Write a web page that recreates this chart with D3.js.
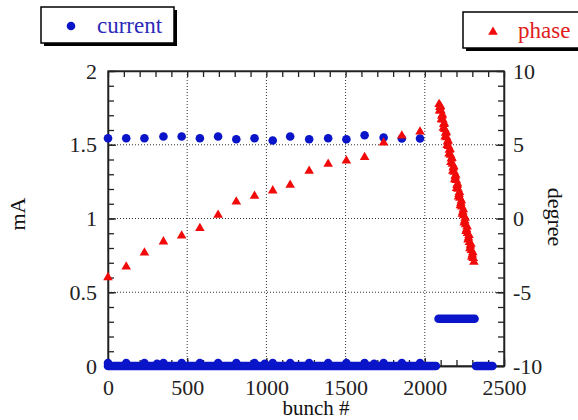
<!DOCTYPE html>
<html><head><meta charset="utf-8">
<script src="https://cdn.jsdelivr.net/npm/d3@7"></script>
<style>
body{margin:0;background:#fff}
svg{display:block}
svg text{font-family:"Liberation Serif","DejaVu Serif",serif !important}
</style>
</head><body>
<svg id="c" width="578" height="420" font-family="Liberation Serif, serif"></svg>
<script>
// ---------- data ----------
const sparseBunches = [0,115,230,350,465,580,695,810,925,1040,1150,1270,1390,1505,1620,1740,1855,1970];
const currentHigh   = [1.544,1.544,1.544,1.556,1.556,1.544,1.556,1.537,1.544,1.529,1.556,1.537,1.544,1.537,1.564,1.549,1.542,1.542];
const phaseSparse   = [-3.99,-3.27,-2.32,-1.57,-1.17,-0.66,0.24,1.14,1.53,1.89,2.27,3.22,3.69,3.92,4.15,5.14,5.61,5.88];

const phaseDenseBunches = [2090,2096,2102,2108,2114,2120,2126,2132,2138,2144,2150,2156,2162,2168,2174,2180,2186,2192,2198,2204,2210,2216,2222,2228,2234,2240,2246,2252,2258,2264,2270,2276,2282,2288,2294,2300,2306,2310];
const phaseDense        = [7.75,7.55,7.30,6.95,6.70,6.40,6.05,5.80,5.50,5.20,4.90,4.65,4.30,4.05,3.70,3.45,3.15,2.85,2.60,2.25,2.00,1.65,1.40,1.05,0.80,0.45,0.20,-0.15,-0.40,-0.75,-1.00,-1.30,-1.60,-1.85,-2.15,-2.45,-2.70,-2.95];
const phaseDense2Bunches = [2093,2099,2105,2111,2117,2123,2129,2135,2141,2147,2153,2159,2165,2171,2177,2183,2189,2195,2201,2207,2213,2219,2225,2231,2237,2243,2249,2255,2261,2267,2273,2279,2285,2291,2297,2303];
const phaseDense2        = [7.30,7.61,6.72,7.03,6.14,6.45,5.55,5.86,4.97,5.28,4.39,4.70,3.81,4.11,3.22,3.53,2.64,2.95,2.06,2.36,1.47,1.78,0.89,1.20,0.31,0.61,-0.28,0.03,-0.86,-0.55,-1.44,-1.14,-2.03,-1.72,-2.61,-2.30];

// runs of densely packed current points (start bunch, end bunch, value)
const runStarts = [0, 2087, 2323];
const runEnds   = [2070, 2314, 2427];
const runValues = [0, 0.32, 0];
// slightly raised points on the zero-current run
const lowBunches = [0,115,230,310,350,465,580,695,810,925,990,1040,1150,1270,1390,1505,1620,1680,1740,1855,1970];
const lowValues  = [0.02,0.02,0.02,0.015,0.02,0.02,0.02,0.02,0.02,0.02,0.015,0.02,0.02,0.02,0.02,0.02,0.02,0.015,0.02,0.02,0.02];

const xTicks = [0,500,1000,1500,2000,2500];
const yLeftTicks = [0,0.5,1,1.5,2];
const yRightTicks = [-10,-5,0,5,10];

// ---------- drawing ----------
const FONT = "Liberation Serif, DejaVu Serif, serif";
const svg = d3.select("#c");
const L=108, R=504, T=71, B=366;
const x  = d3.scaleLinear().domain([0,2500]).range([L,R]);
const yL = d3.scaleLinear().domain([0,2]).range([B,T]);
const yR = d3.scaleLinear().domain([-10,10]).range([B,T]);
const BLUE="#0a14c8", RED="#f00a0a", AX="#222";

// gridlines
const grid = svg.append("g").attr("stroke","#333").attr("stroke-width",1).attr("stroke-dasharray","1,2");
xTicks.filter(d=>d>0&&d<2500).forEach(d=>{
  grid.append("line").attr("x1",x(d)).attr("x2",x(d)).attr("y1",T).attr("y2",B);
});
yLeftTicks.filter(d=>d>0&&d<2).forEach(d=>{
  grid.append("line").attr("x1",L).attr("x2",R).attr("y1",yL(d)).attr("y2",yL(d));
});

function styleAxis(g){
  g.attr("font-family",FONT).attr("font-size",22);
  g.selectAll("path,line").attr("stroke",AX).attr("stroke-width",1.3);
  g.selectAll("text").attr("font-size",22).attr("fill","#222").attr("font-family",FONT);
}
// minor ticks
svg.append("g").attr("transform",`translate(0,${B})`)
  .call(d3.axisBottom(x).tickValues(d3.range(0,2501,100)).tickSizeInner(-6).tickSizeOuter(0).tickFormat(""))
  .call(styleAxis);
svg.append("g").attr("transform",`translate(0,${T})`)
  .call(d3.axisTop(x).tickValues(d3.range(0,2501,100)).tickSizeInner(-6).tickSizeOuter(0).tickFormat(""))
  .call(styleAxis);
svg.append("g").attr("transform",`translate(${L},0)`)
  .call(d3.axisLeft(yL).tickValues(d3.range(0,21).map(i=>i/10)).tickSizeInner(-6).tickSizeOuter(0).tickFormat(""))
  .call(styleAxis);
svg.append("g").attr("transform",`translate(${R},0)`)
  .call(d3.axisRight(yR).tickValues(d3.range(-10,11)).tickSizeInner(-6).tickSizeOuter(0).tickFormat(""))
  .call(styleAxis);
// major labelled axes
svg.append("g").attr("transform",`translate(0,${B})`)
  .call(d3.axisBottom(x).tickValues(xTicks).tickSizeInner(-8).tickSizeOuter(0).tickPadding(13).tickFormat(d=>String(d)))
  .call(styleAxis);
svg.append("g").attr("transform",`translate(${L},0)`)
  .call(d3.axisLeft(yL).tickValues(yLeftTicks).tickSizeInner(-8).tickSizeOuter(0).tickPadding(11).tickFormat(d=>String(d)))
  .call(styleAxis);
svg.append("g").attr("transform",`translate(${R},0)`)
  .call(d3.axisRight(yR).tickValues(yRightTicks).tickSizeInner(-8).tickSizeOuter(0).tickPadding(9).tickFormat(d=>String(d)))
  .call(styleAxis);
// frame
svg.append("rect").attr("x",L).attr("y",T).attr("width",R-L).attr("height",B-T)
  .attr("fill","none").attr("stroke",AX).attr("stroke-width",1.3);

// current: dense runs
const pts = svg.append("g");
runStarts.forEach((s,i)=>{
  pts.append("line").attr("x1",x(s)).attr("x2",x(runEnds[i]))
    .attr("y1",yL(runValues[i])).attr("y2",yL(runValues[i]))
    .attr("stroke",BLUE).attr("stroke-width",8.6).attr("stroke-linecap","round");
});
lowBunches.forEach((b,i)=>{
  pts.append("circle").attr("cx",x(b)).attr("cy",yL(lowValues[i])).attr("r",4.3).attr("fill",BLUE);
});
sparseBunches.forEach((b,i)=>{
  pts.append("circle").attr("cx",x(b)).attr("cy",yL(currentHigh[i])).attr("r",4.3).attr("fill",BLUE);
});
// phase
const tri = d3.symbol().type(d3.symbolTriangle).size(40);
sparseBunches.forEach((b,i)=>{
  pts.append("path").attr("d",tri()).attr("transform",`translate(${x(b)},${yR(phaseSparse[i])})`).attr("fill",RED);
});
phaseDenseBunches.forEach((b,i)=>{
  pts.append("path").attr("d",tri()).attr("transform",`translate(${x(b)},${yR(phaseDense[i])})`).attr("fill",RED);
});
phaseDense2Bunches.forEach((b,i)=>{
  pts.append("path").attr("d",tri()).attr("transform",`translate(${x(b)},${yR(phaseDense2[i])})`).attr("fill",RED);
});

// axis titles
function title(t, tr, size){
  svg.append("text").attr("transform",tr).attr("text-anchor","middle").attr("font-family",FONT)
    .attr("font-size",size).attr("fill","#111").text(t);
}
title("bunch #","translate(316,415)",21);
title("mA","translate(25,214) rotate(-90)",22);
title("degree","translate(548,217) rotate(90)",22);

// legends
function legend(x0,y0,w,h,sym,label,color){
  svg.append("rect").attr("x",x0+3).attr("y",y0+3).attr("width",w).attr("height",h).attr("fill","#000");
  svg.append("rect").attr("x",x0).attr("y",y0).attr("width",w).attr("height",h).attr("fill","#fff").attr("stroke","#000").attr("stroke-width",1.5);
  sym();
  svg.append("text").attr("x",x0+label[1]).attr("y",y0+label[2]).attr("font-family",FONT).attr("font-size",23).attr("fill",color).text(label[0]);
}
legend(41,7,133,36,()=>svg.append("circle").attr("cx",71).attr("cy",26).attr("r",4.3).attr("fill",BLUE),
  ["current",56,26],"#2a2ab8");
legend(463,12,120,36,()=>svg.append("path").attr("d",tri()).attr("transform","translate(493,32)").attr("fill",RED),
  ["phase",55,26],"#e02020");
</script>
</body></html>
